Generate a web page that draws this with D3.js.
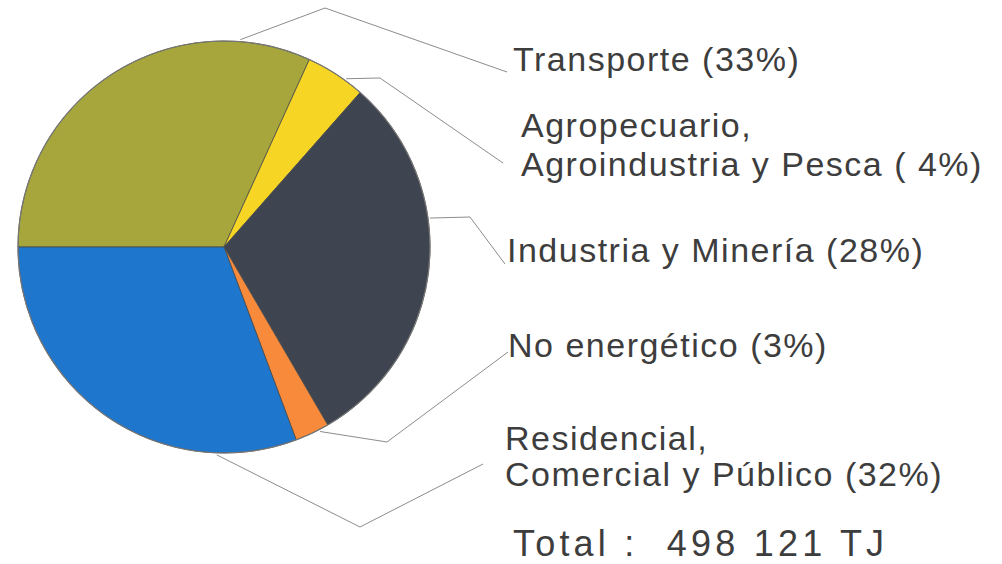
<!DOCTYPE html>
<html>
<head>
<meta charset="utf-8">
<script src="https://cdn.jsdelivr.net/npm/d3@7"></script>
<style>
  html, body { margin: 0; padding: 0; background: #ffffff; }
  svg { display: block; }
  text { font-family: "Liberation Sans", Arial, Helvetica, sans-serif; fill: #3d3d3d; white-space: pre; }
</style>
</head>
<body>
<svg id="chart" width="1002" height="564"></svg>
<script>
// ---- data ----
const categories = ["Transporte", "Agropecuario", "Industria", "NoEnergetico", "Residencial"];
const shares = [31.8, 4.7, 30.1, 2.7, 30.7];           // slice sizes as drawn (%)
const colors = ["#a6a63d", "#f6d524", "#3e4550", "#f78a3b", "#1f76cd"];
const labelLines = [
  ["Transporte (33%)"],
  ["Agropecuario,", "Agroindustria y Pesca ( 4%)"],
  ["Industria y Minería (28%)"],
  ["No energético (3%)"],
  ["Residencial,", "Comercial y Público (32%)"]
];
const totalText = "Total :  498 121 TJ";

// ---- layout ----
const svg = d3.select("#chart");
const cx = 224, cy = 247, R = 206;

const pie = d3.pie().sort(null).value(d => d)
  .startAngle(-Math.PI / 2).endAngle(1.5 * Math.PI);
const arcs = pie(shares);
const arc = d3.arc().innerRadius(0).outerRadius(R);

const g = svg.append("g").attr("transform", `translate(${cx},${cy})`);
g.selectAll("path.slice").data(arcs).enter().append("path")
  .attr("class", "slice")
  .attr("d", arc)
  .attr("fill", (d, i) => colors[i])
  .attr("stroke", "#4a4a4a")
  .attr("stroke-width", 0.8)
  .attr("stroke-linejoin", "round");
g.append("circle").attr("r", R).attr("fill", "none")
  .attr("stroke", "#777").attr("stroke-width", 1.2);

// leader lines: rim angle (deg from north), elbow, end
const leaderAngle = [4.5, 36, 82, 152.5, 182];
const leaderElbow = [[325, 8], [380, 78], [470, 217], [387, 442], [360, 527]];
const leaderEnd = [[507, 72], [503, 163], [505, 264], [508, 352], [483, 464]];
const line = d3.line();
arcs.forEach((a, i) => {
  const t = leaderAngle[i] * Math.PI / 180;
  const r0 = R + 2;
  const p0 = [cx + r0 * Math.sin(t), cy - r0 * Math.cos(t)];
  svg.append("path")
    .attr("d", line([p0, leaderElbow[i], leaderEnd[i]]))
    .attr("fill", "none")
    .attr("stroke", "#8c8c8c")
    .attr("stroke-width", 1);
});

// labels
const labelX = [513, 521, 507, 508, 505];
const labelBase = [[71], [137, 176], [262], [357], [450, 486]];
labelLines.forEach((lines, i) => {
  lines.forEach((s, j) => {
    svg.append("text")
      .attr("x", labelX[i])
      .attr("y", labelBase[i][j])
      .attr("font-size", 34)
      .attr("letter-spacing", 1.5)
      .text(s);
  });
});

svg.append("text")
  .attr("x", 513).attr("y", 556)
  .attr("font-size", 36)
  .attr("letter-spacing", 4.2)
  .text(totalText);
</script>
</body>
</html>
